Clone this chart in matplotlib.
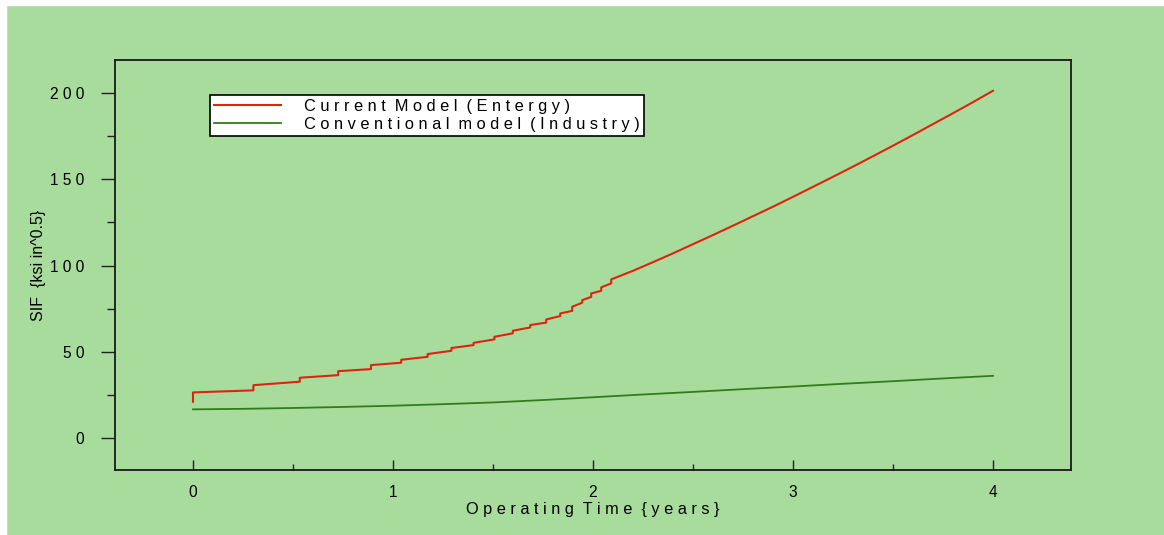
import numpy as np
import matplotlib
matplotlib.use('Agg')
import matplotlib.pyplot as plt
from matplotlib.patches import Rectangle
from matplotlib.ticker import MultipleLocator, FixedLocator

plt.rcParams['font.family'] = ['Liberation Sans', 'DejaVu Sans']

## current model: stepped growth up to ~2.1 years, smooth afterwards
red_t = [0.0, 0.0, 0.302, 0.302, 0.534, 0.534, 0.726, 0.726, 0.89, 0.89,
         1.041, 1.041, 1.173, 1.173, 1.292, 1.292, 1.403, 1.403, 1.507, 1.507,
         1.599, 1.599, 1.686, 1.686, 1.766, 1.766, 1.836, 1.836, 1.896, 1.896,
         1.946, 1.946, 1.991, 1.991, 2.041, 2.041, 2.091, 2.091,
         2.2, 2.3, 2.4, 2.5, 2.6, 2.7, 2.8, 2.9, 3.0, 3.1, 3.2, 3.3, 3.4,
         3.5, 3.6, 3.7, 3.8, 3.9, 4.0]
red_v = [21.2, 26.6, 27.8, 30.8, 32.8, 35.1, 36.6, 38.9, 40.1, 42.4,
         43.8, 45.5, 47.2, 48.8, 50.7, 52.3, 54.0, 55.3, 57.3, 58.8,
         60.8, 62.3, 64.2, 65.6, 67.0, 68.8, 70.8, 72.3, 73.8, 76.2,
         78.5, 80.0, 81.9, 83.9, 85.4, 87.4, 89.7, 92.0,
         97.0, 102.0, 107.1, 112.4, 117.7, 123.1, 128.6, 134.1, 139.8, 145.6,
         151.4, 157.3, 163.3, 169.4, 175.6, 181.9, 188.2, 194.6, 201.2]

## conventional model
green_t = [0.0, 0.25, 0.5, 0.75, 1.0, 1.25, 1.5, 1.75, 2.0, 2.25, 2.5,
           2.75, 3.0, 3.25, 3.5, 3.75, 4.0]
green_v = [16.8, 17.1, 17.6, 18.2, 18.9, 19.8, 20.8, 22.2, 23.8, 25.4, 26.9,
           28.5, 30.0, 31.6, 33.1, 34.7, 36.2]

x_ticks = [0, 1, 2, 3, 4]
y_ticks = [0, 50, 100, 150, 200]

bg = '#a7dc9c'
fs = 11.2


def spaced(s):
    # wide letter spacing, double gap between words
    return '  '.join(' '.join(w) for w in s.split(' '))


fig = plt.figure(figsize=(11.64, 5.35), dpi=100, facecolor=bg)
fig.patches.append(Rectangle((0, 530/535), 1, 5/535, transform=fig.transFigure,
                             color='white', zorder=-1))
fig.patches.append(Rectangle((0, 0), 6/1164, 1, transform=fig.transFigure,
                             color='white', zorder=-1))

ax = fig.add_axes([115/1164, 65/535, 956/1164, 410/535])
ax.set_facecolor(bg)

ax.plot(red_t, red_v, color='#e0230f', lw=1.5,
        label=spaced('Current Model (Entergy)'))
ax.plot(green_t, green_v, color='#327d19', lw=1.3,
        label=spaced('Conventional model (Industry)'))

ax.set_xlim(-0.39, 4.39)
ax.set_ylim(-18.3, 219)

ax.xaxis.set_major_locator(FixedLocator(x_ticks))
ax.xaxis.set_minor_locator(MultipleLocator(0.5))
ax.yaxis.set_major_locator(FixedLocator(y_ticks))
ax.yaxis.set_minor_locator(MultipleLocator(25))
ax.set_xticklabels([spaced(str(v)) for v in x_ticks])
ax.set_yticklabels([spaced(str(v)) for v in y_ticks])

ax.tick_params(axis='y', which='major', direction='out', length=10, width=1,
               pad=12, labelsize=fs, color='#222222')
ax.tick_params(axis='y', which='minor', direction='out', length=6, width=1,
               color='#222222')
ax.tick_params(axis='x', which='major', direction='in', length=7, width=1,
               pad=11, labelsize=fs, color='#222222')
ax.tick_params(axis='x', which='minor', direction='in', length=4, width=1,
               color='#222222')

for sp in ax.spines.values():
    sp.set_linewidth(1.3)
    sp.set_color('#1a1a1a')

ax.set_xlabel(spaced('Operating Time {years}'), fontsize=11.8, labelpad=1)
ax.set_ylabel('SIF  {ksi in^0.5}', fontsize=11.5, labelpad=3)

leg = ax.legend(loc='upper left', bbox_to_anchor=(0.0994, 0.915),
                borderaxespad=0, fontsize=11.8, handlelength=4.1,
                handletextpad=1.4, labelspacing=0.2, borderpad=0.25,
                fancybox=False, framealpha=1, edgecolor='black',
                facecolor='white')
leg.get_frame().set_linewidth(1.2)

fig.savefig('out.png', dpi=100, facecolor=fig.get_facecolor())
